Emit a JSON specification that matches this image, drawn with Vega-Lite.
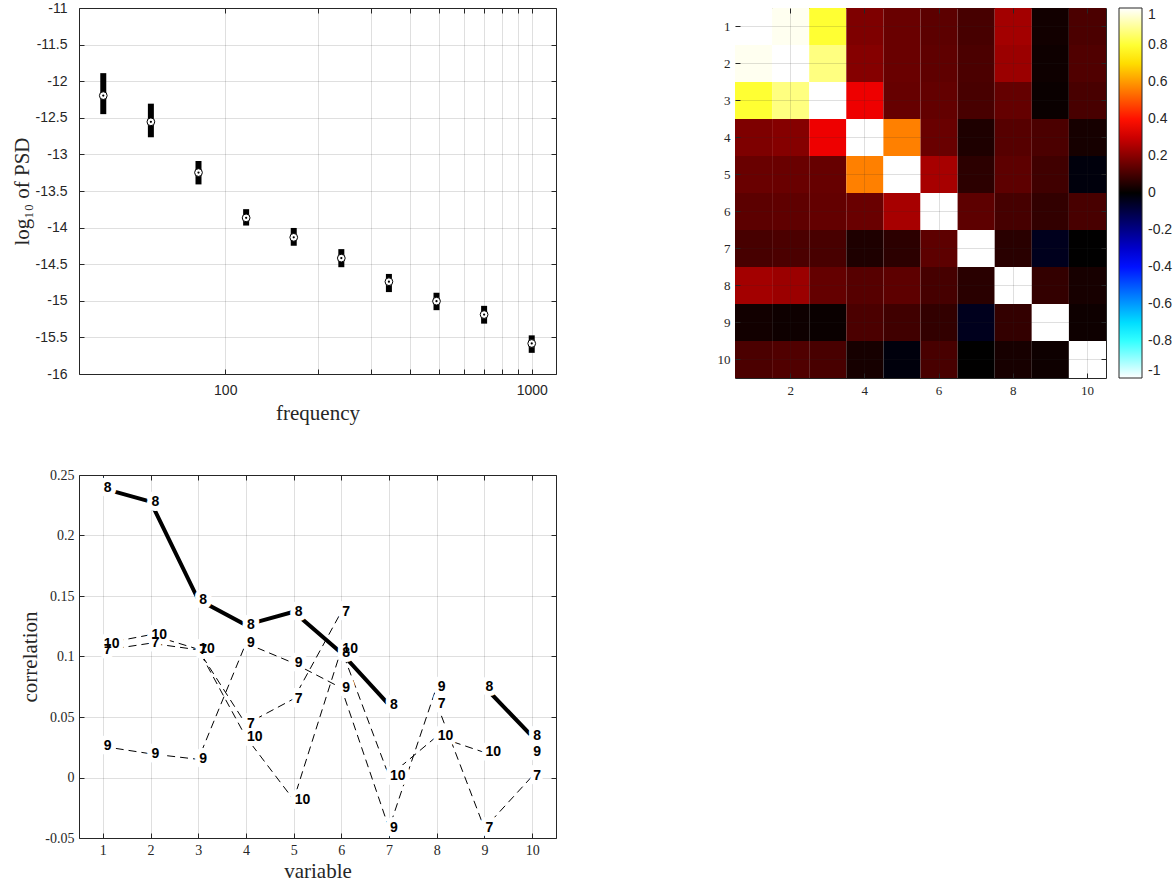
{
  "$schema": "https://vega.github.io/schema/vega-lite/v6.json",
  "background": "white",
  "padding": {"left": 10, "top": 0, "right": 0, "bottom": 0},
  "columns": 2,
  "align": "each",
  "spacing": {"row": 43, "column": 159},
  "config": {
    "font": "Liberation Sans",
    "view": {"stroke": "#262626", "strokeWidth": 1},
    "axis": {
      "domain": false,
      "tickColor": "#262626",
      "tickSize": -5,
      "labelColor": "#262626",
      "titleColor": "#262626",
      "titleFontWeight": "normal",
      "titleFont": "Liberation Serif",
      "titleFontSize": 21,
      "gridColor": "#262626",
      "gridOpacity": 0.15,
      "labelFlush": false,
      "labelOverlap": false
    }
  },
  "concat": [
    {
      "width": 477,
      "height": 366,
      "data": {"values": [
        {"f": 40.0, "med": -12.197, "lo": -12.45, "hi": -11.89},
        {"f": 57.2, "med": -12.555, "lo": -12.766, "hi": -12.307},
        {"f": 81.8, "med": -13.248, "lo": -13.41, "hi": -13.09},
        {"f": 117.0, "med": -13.867, "lo": -13.972, "hi": -13.748},
        {"f": 167.3, "med": -14.133, "lo": -14.248, "hi": -14.005},
        {"f": 239.2, "med": -14.417, "lo": -14.541, "hi": -14.294},
        {"f": 342.0, "med": -14.739, "lo": -14.881, "hi": -14.633},
        {"f": 489.0, "med": -15.005, "lo": -15.128, "hi": -14.89},
        {"f": 699.2, "med": -15.188, "lo": -15.312, "hi": -15.069},
        {"f": 1000.0, "med": -15.583, "lo": -15.711, "hi": -15.472}
      ]},
      "resolve": {"scale": {"x": "independent", "y": "independent"}},
      "layer": [
        {
          "encoding": {
            "x": {
              "field": "f", "type": "quantitative", "title": "frequency",
              "scale": {"type": "log", "domain": [33.333, 1200], "nice": false},
              "axis": {
                "values": [100, 200, 300, 400, 500, 600, 700, 800, 900, 1000],
                "labelExpr": "datum.value == 100 || datum.value == 1000 ? toString(datum.value) : ''",
                "grid": true, "labelFontSize": 14, "labelPadding": 14, "titlePadding": 5
              }
            }
          },
          "layer": [
            {
              "mark": {"type": "rule", "strokeWidth": 6, "color": "black", "strokeCap": "butt"},
              "encoding": {
                "y": {
                  "field": "lo", "type": "quantitative", "title": "log₁₀ of PSD",
                  "scale": {"domain": [-16, -11], "nice": false, "zero": false},
                  "axis": {
                    "values": [-16, -15.5, -15, -14.5, -14, -13.5, -13, -12.5, -12, -11.5, -11],
                    "labelExpr": "toString(datum.value)",
                    "grid": true, "labelFontSize": 14, "labelPadding": 17, "titlePadding": 3
                  }
                },
                "y2": {"field": "hi"}
              }
            },
            {
              "mark": {"type": "point", "shape": "circle", "filled": true, "fill": "white", "stroke": "black", "strokeWidth": 1, "size": 60, "opacity": 1},
              "encoding": {
                "y": {
                  "field": "med", "type": "quantitative", "title": "log₁₀ of PSD",
                  "scale": {"domain": [-16, -11], "nice": false, "zero": false},
                  "axis": {
                    "values": [-16, -15.5, -15, -14.5, -14, -13.5, -13, -12.5, -12, -11.5, -11],
                    "labelExpr": "toString(datum.value)",
                    "grid": true, "labelFontSize": 14, "labelPadding": 17, "titlePadding": 3
                  }
                }
              }
            },
            {
              "mark": {"type": "point", "shape": "circle", "filled": true, "color": "black", "size": 5, "opacity": 1},
              "encoding": {
                "y": {
                  "field": "med", "type": "quantitative", "title": "log₁₀ of PSD",
                  "scale": {"domain": [-16, -11], "nice": false, "zero": false},
                  "axis": {
                    "values": [-16, -15.5, -15, -14.5, -14, -13.5, -13, -12.5, -12, -11.5, -11],
                    "labelExpr": "toString(datum.value)",
                    "grid": true, "labelFontSize": 14, "labelPadding": 17, "titlePadding": 3
                  }
                }
              }
            }
          ]
        },
        {
          "mark": {"type": "point", "opacity": 0},
          "encoding": {
            "x": {
              "field": "f", "type": "quantitative", "title": null,
              "scale": {"type": "log", "domain": [33.333, 1200], "nice": false},
              "axis": {"orient": "top", "values": [100, 200, 300, 400, 500, 600, 700, 800, 900, 1000], "labels": false, "grid": false}
            },
            "y": {
              "field": "med", "type": "quantitative", "title": null,
              "scale": {"domain": [-16, -11], "nice": false, "zero": false},
              "axis": {"orient": "right", "values": [-16, -15.5, -15, -14.5, -14, -13.5, -13, -12.5, -12, -11.5, -11], "labels": false, "grid": false}
            }
          }
        }
      ]
    },
    {
      "width": 371,
      "height": 370,
      "data": {"values": [
        {"r": 1, "c": 1, "v": 1}, {"r": 1, "c": 2, "v": 0.985}, {"r": 1, "c": 3, "v": 0.8}, {"r": 1, "c": 4, "v": 0.185}, {"r": 1, "c": 5, "v": 0.155}, {"r": 1, "c": 6, "v": 0.135}, {"r": 1, "c": 7, "v": 0.105}, {"r": 1, "c": 8, "v": 0.239}, {"r": 1, "c": 9, "v": 0.026}, {"r": 1, "c": 10, "v": 0.11},
        {"r": 2, "c": 1, "v": 0.985}, {"r": 2, "c": 2, "v": 1}, {"r": 2, "c": 3, "v": 0.875}, {"r": 2, "c": 4, "v": 0.195}, {"r": 2, "c": 5, "v": 0.155}, {"r": 2, "c": 6, "v": 0.14}, {"r": 2, "c": 7, "v": 0.111}, {"r": 2, "c": 8, "v": 0.228}, {"r": 2, "c": 9, "v": 0.02}, {"r": 2, "c": 10, "v": 0.118},
        {"r": 3, "c": 1, "v": 0.8}, {"r": 3, "c": 2, "v": 0.875}, {"r": 3, "c": 3, "v": 1}, {"r": 3, "c": 4, "v": 0.35}, {"r": 3, "c": 5, "v": 0.15}, {"r": 3, "c": 6, "v": 0.145}, {"r": 3, "c": 7, "v": 0.106}, {"r": 3, "c": 8, "v": 0.147}, {"r": 3, "c": 9, "v": 0.015}, {"r": 3, "c": 10, "v": 0.106},
        {"r": 4, "c": 1, "v": 0.185}, {"r": 4, "c": 2, "v": 0.195}, {"r": 4, "c": 3, "v": 0.35}, {"r": 4, "c": 4, "v": 1}, {"r": 4, "c": 5, "v": 0.5625}, {"r": 4, "c": 6, "v": 0.155}, {"r": 4, "c": 7, "v": 0.044}, {"r": 4, "c": 8, "v": 0.126}, {"r": 4, "c": 9, "v": 0.111}, {"r": 4, "c": 10, "v": 0.033},
        {"r": 5, "c": 1, "v": 0.155}, {"r": 5, "c": 2, "v": 0.155}, {"r": 5, "c": 3, "v": 0.15}, {"r": 5, "c": 4, "v": 0.5625}, {"r": 5, "c": 5, "v": 1}, {"r": 5, "c": 6, "v": 0.245}, {"r": 5, "c": 7, "v": 0.065}, {"r": 5, "c": 8, "v": 0.137}, {"r": 5, "c": 9, "v": 0.0945}, {"r": 5, "c": 10, "v": -0.018},
        {"r": 6, "c": 1, "v": 0.135}, {"r": 6, "c": 2, "v": 0.14}, {"r": 6, "c": 3, "v": 0.145}, {"r": 6, "c": 4, "v": 0.155}, {"r": 6, "c": 5, "v": 0.245}, {"r": 6, "c": 6, "v": 1}, {"r": 6, "c": 7, "v": 0.137}, {"r": 6, "c": 8, "v": 0.103}, {"r": 6, "c": 9, "v": 0.074}, {"r": 6, "c": 10, "v": 0.106},
        {"r": 7, "c": 1, "v": 0.105}, {"r": 7, "c": 2, "v": 0.111}, {"r": 7, "c": 3, "v": 0.106}, {"r": 7, "c": 4, "v": 0.044}, {"r": 7, "c": 5, "v": 0.065}, {"r": 7, "c": 6, "v": 0.137}, {"r": 7, "c": 7, "v": 1}, {"r": 7, "c": 8, "v": 0.061}, {"r": 7, "c": 9, "v": -0.042}, {"r": 7, "c": 10, "v": 0.001},
        {"r": 8, "c": 1, "v": 0.239}, {"r": 8, "c": 2, "v": 0.228}, {"r": 8, "c": 3, "v": 0.147}, {"r": 8, "c": 4, "v": 0.126}, {"r": 8, "c": 5, "v": 0.137}, {"r": 8, "c": 6, "v": 0.103}, {"r": 8, "c": 7, "v": 0.061}, {"r": 8, "c": 8, "v": 1}, {"r": 8, "c": 9, "v": 0.075}, {"r": 8, "c": 10, "v": 0.034},
        {"r": 9, "c": 1, "v": 0.026}, {"r": 9, "c": 2, "v": 0.02}, {"r": 9, "c": 3, "v": 0.015}, {"r": 9, "c": 4, "v": 0.111}, {"r": 9, "c": 5, "v": 0.0945}, {"r": 9, "c": 6, "v": 0.074}, {"r": 9, "c": 7, "v": -0.042}, {"r": 9, "c": 8, "v": 0.075}, {"r": 9, "c": 9, "v": 1}, {"r": 9, "c": 10, "v": 0.021},
        {"r": 10, "c": 1, "v": 0.11}, {"r": 10, "c": 2, "v": 0.118}, {"r": 10, "c": 3, "v": 0.106}, {"r": 10, "c": 4, "v": 0.033}, {"r": 10, "c": 5, "v": -0.018}, {"r": 10, "c": 6, "v": 0.106}, {"r": 10, "c": 7, "v": 0.001}, {"r": 10, "c": 8, "v": 0.034}, {"r": 10, "c": 9, "v": 0.021}, {"r": 10, "c": 10, "v": 1}
      ]},
      "resolve": {"scale": {"x": "independent", "y": "independent"}},
      "layer": [
        {
          "mark": {"type": "rect"},
          "encoding": {
            "x": {
              "field": "c", "type": "ordinal", "title": null,
              "scale": {"paddingInner": 0, "paddingOuter": 0},
              "axis": {"values": [2, 4, 6, 8, 10], "labelAngle": 0, "grid": true, "bandPosition": 0.5, "zindex": 1, "labelFont": "Liberation Serif", "labelFontSize": 13, "labelPadding": 11}
            },
            "y": {
              "field": "r", "type": "ordinal", "title": null,
              "scale": {"paddingInner": 0, "paddingOuter": 0},
              "axis": {"grid": true, "bandPosition": 0.5, "zindex": 1, "labelFont": "Liberation Serif", "labelFontSize": 13, "labelPadding": 10}
            },
            "color": {
              "field": "v", "type": "quantitative",
              "scale": {
                "domain": [-1, -0.75, -0.375, 0, 0.375, 0.75, 1],
                "range": ["#ffffff", "#00ffff", "#0000ff", "#000000", "#ff0000", "#ffff00", "#ffffff"],
                "interpolate": "rgb"
              },
              "legend": {
                "title": null, "orient": "right", "offset": 12, "direction": "vertical",
                "gradientLength": 370, "gradientThickness": 23,
                "gradientStrokeColor": "#262626", "gradientStrokeWidth": 1,
                "labelFont": "Liberation Sans", "labelFontSize": 14, "labelColor": "#262626", "labelOffset": 6,
                "labelOverlap": false, "padding": 0,
                "values": [-1, -0.8, -0.6, -0.4, -0.2, 0, 0.2, 0.4, 0.6, 0.8, 1],
                "labelExpr": "toString(datum.value)"
              }
            }
          }
        },
        {
          "mark": {"type": "rect", "opacity": 0},
          "encoding": {
            "x": {
              "field": "c", "type": "ordinal", "title": null,
              "scale": {"paddingInner": 0, "paddingOuter": 0},
              "axis": {"orient": "top", "values": [2, 4, 6, 8, 10], "labels": false, "grid": false, "bandPosition": 0.5, "zindex": 1}
            },
            "y": {
              "field": "r", "type": "ordinal", "title": null,
              "scale": {"paddingInner": 0, "paddingOuter": 0},
              "axis": {"orient": "right", "labels": false, "grid": false, "bandPosition": 0.5, "zindex": 1}
            }
          }
        }
      ]
    },
    {
      "width": 477,
      "height": 363,
      "data": {"values": [
        {"s": 8, "x": 1, "v": 0.239}, {"s": 8, "x": 2, "v": 0.228}, {"s": 8, "x": 3, "v": 0.147}, {"s": 8, "x": 4, "v": 0.126}, {"s": 8, "x": 5, "v": 0.137}, {"s": 8, "x": 6, "v": 0.103}, {"s": 8, "x": 7, "v": 0.06}, {"s": 8, "x": 8, "v": null}, {"s": 8, "x": 9, "v": 0.075}, {"s": 8, "x": 10, "v": 0.034},
        {"s": 7, "x": 1, "v": 0.105}, {"s": 7, "x": 2, "v": 0.111}, {"s": 7, "x": 3, "v": 0.1055}, {"s": 7, "x": 4, "v": 0.044}, {"s": 7, "x": 5, "v": 0.065}, {"s": 7, "x": 6, "v": 0.137}, {"s": 7, "x": 7, "v": null}, {"s": 7, "x": 8, "v": 0.061}, {"s": 7, "x": 9, "v": -0.042}, {"s": 7, "x": 10, "v": 0.001},
        {"s": 9, "x": 1, "v": 0.0257}, {"s": 9, "x": 2, "v": 0.0196}, {"s": 9, "x": 3, "v": 0.015}, {"s": 9, "x": 4, "v": 0.111}, {"s": 9, "x": 5, "v": 0.0945}, {"s": 9, "x": 6, "v": 0.074}, {"s": 9, "x": 7, "v": -0.042}, {"s": 9, "x": 8, "v": 0.0752}, {"s": 9, "x": 9, "v": null}, {"s": 9, "x": 10, "v": 0.0207},
        {"s": 10, "x": 1, "v": 0.1105}, {"s": 10, "x": 2, "v": 0.118}, {"s": 10, "x": 3, "v": 0.106}, {"s": 10, "x": 4, "v": 0.0334}, {"s": 10, "x": 5, "v": -0.0184}, {"s": 10, "x": 6, "v": 0.106}, {"s": 10, "x": 7, "v": 0.001}, {"s": 10, "x": 8, "v": 0.034}, {"s": 10, "x": 9, "v": 0.0207}, {"s": 10, "x": 10, "v": null}
      ]},
      "resolve": {"scale": {"x": "independent", "y": "independent"}},
      "layer": [
        {
          "encoding": {
            "x": {
              "field": "x", "type": "quantitative", "title": "variable",
              "scale": {"domain": [0.5, 10.5], "nice": false, "zero": false},
              "axis": {"values": [1, 2, 3, 4, 5, 6, 7, 8, 9, 10], "grid": true, "labelFont": "Liberation Serif", "labelFontSize": 14, "labelPadding": 10, "titlePadding": 3}
            },
            "y": {
              "field": "v", "type": "quantitative", "title": "correlation",
              "scale": {"domain": [-0.05, 0.25], "nice": false, "zero": false},
              "axis": {"values": [-0.05, 0, 0.05, 0.1, 0.15, 0.2, 0.25], "labelExpr": "toString(datum.value)", "grid": true, "labelFont": "Liberation Serif", "labelFontSize": 14, "labelPadding": 10, "titlePadding": 4}
            }
          },
          "layer": [
            {
              "transform": [{"filter": "datum.s != 8"}],
              "mark": {"type": "line", "strokeWidth": 1, "strokeDash": [8, 5], "color": "black", "invalid": "break-paths-show-domains"},
              "encoding": {"detail": {"field": "s", "type": "nominal"}}
            },
            {
              "transform": [{"filter": "datum.s == 8"}],
              "mark": {"type": "line", "strokeWidth": 4, "color": "black", "invalid": "break-paths-show-domains"},
              "encoding": {}
            },
            {
              "mark": {"type": "text", "align": "left", "baseline": "middle", "dx": 1, "font": "Liberation Sans", "fontWeight": "bold", "fontSize": 14, "fill": "white", "stroke": "white", "strokeWidth": 10, "strokeJoin": "round"},
              "encoding": {"text": {"field": "s", "type": "nominal"}}
            },
            {
              "mark": {"type": "text", "align": "left", "baseline": "middle", "dx": 1, "font": "Liberation Sans", "fontWeight": "bold", "fontSize": 14, "fill": "black"},
              "encoding": {"text": {"field": "s", "type": "nominal"}}
            }
          ]
        },
        {
          "mark": {"type": "point", "opacity": 0},
          "encoding": {
            "x": {
              "field": "x", "type": "quantitative", "title": null,
              "scale": {"domain": [0.5, 10.5], "nice": false, "zero": false},
              "axis": {"orient": "top", "values": [1, 2, 3, 4, 5, 6, 7, 8, 9, 10], "labels": false, "grid": false}
            },
            "y": {
              "field": "v", "type": "quantitative", "title": null,
              "scale": {"domain": [-0.05, 0.25], "nice": false, "zero": false},
              "axis": {"orient": "right", "values": [-0.05, 0, 0.05, 0.1, 0.15, 0.2, 0.25], "labels": false, "grid": false}
            }
          }
        }
      ]
    }
  ]
}
